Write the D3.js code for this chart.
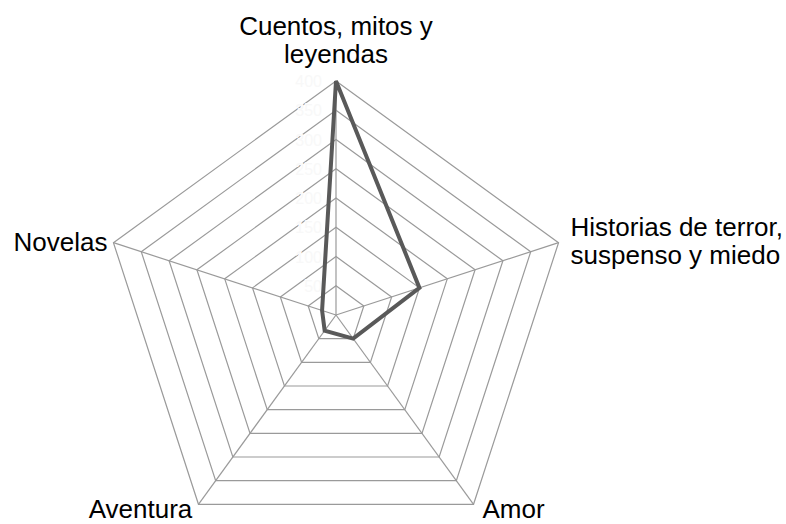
<!DOCTYPE html>
<html>
<head>
<meta charset="utf-8">
<script src="https://cdn.jsdelivr.net/npm/d3@7"></script>
<style>
  body { margin: 0; background: #fff; }
  svg { display: block; font-family: "Liberation Sans", Arial, sans-serif; }
</style>
</head>
<body>
<svg class="radar" width="786" height="524"></svg>
<script>
// data
let categories = ['Cuentos, mitos y leyendas', 'Historias de terror, suspenso y miedo', 'Amor', 'Aventura', 'Novelas'];
let values = [400, 150, 50, 33, 25];
let tickValues = [50, 100, 150, 200, 250, 300, 350, 400];

// label lines per axis
let labelLines = [['Cuentos, mitos y', 'leyendas'], ['Historias de terror,', 'suspenso y miedo'], ['Amor'], ['Aventura'], ['Novelas']];

let cx = 336, cy = 315, R = 234;
let maxVal = 400;

let svg = d3.select('svg.radar');

let r = d3.scaleLinear().domain([0, maxVal]).range([0, R]);
let angle = d3.scaleLinear().domain([0, categories.length]).range([0, 2 * Math.PI]);

function pt(i, v) {
  let a = angle(i);
  return [cx + r(v) * Math.sin(a), cy - r(v) * Math.cos(a)];
}

let g = svg.append('g');

// rings
g.selectAll('polygon.ring')
  .data(tickValues)
  .enter()
  .append('polygon')
  .attr('class', 'ring')
  .attr('points', v => categories.map((c, i) => pt(i, v).join(',')).join(' '))
  .style('fill', 'none')
  .style('stroke', '#9a9a9a')
  .style('stroke-width', '1.2px');

// spokes
g.selectAll('line.spoke')
  .data(categories)
  .enter()
  .append('line')
  .attr('class', 'spoke')
  .attr('x1', cx)
  .attr('y1', cy)
  .attr('x2', (d, i) => pt(i, maxVal)[0])
  .attr('y2', (d, i) => pt(i, maxVal)[1])
  .style('stroke', '#9a9a9a')
  .style('stroke-width', '1.2px');

// faint (almost white) tick labels along the top axis
g.selectAll('text.tick')
  .data(tickValues)
  .enter()
  .append('text')
  .attr('class', 'tick')
  .attr('x', cx - 14)
  .attr('y', v => cy - r(v) + 6)
  .attr('text-anchor', 'end')
  .style('font-size', '16px')
  .style('fill', '#f8f8f8')
  .style('stroke', '#fff')
  .style('stroke-width', '1.5px')
  .style('paint-order', 'stroke')
  .text(d => d);

// data line
let line = d3.line().curve(d3.curveLinearClosed);
g.append('path')
  .datum(values.map((v, i) => pt(i, v)))
  .attr('d', line)
  .style('fill', 'none')
  .style('stroke', '#595959')
  .style('stroke-width', '4px')
  .style('stroke-linejoin', 'miter');

// category labels: anchor and offset from vertex
let labelAnchor = ['middle', 'start', 'middle', 'middle', 'end'];
let labelDx = [0, 12, 40, -58, -6];
let labelDy = [-46, -7, 14, 14, 8];

categories.forEach((c, i) => {
  let p = pt(i, maxVal);
  let t = svg.append('text')
    .attr('text-anchor', labelAnchor[i])
    .attr('x', p[0] + labelDx[i])
    .attr('y', p[1] + labelDy[i])
    .style('font-size', '26px')
    .style('fill', '#000');
  labelLines[i].forEach((l, j) => {
    t.append('tspan')
      .attr('x', p[0] + labelDx[i])
      .attr('dy', j == 0 ? 0 : 28)
      .text(l);
  });
});
</script>
</body>
</html>
